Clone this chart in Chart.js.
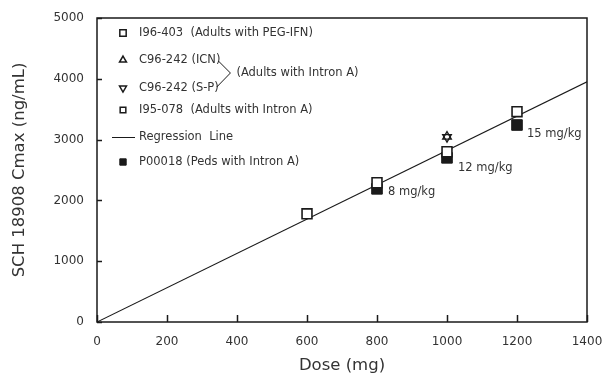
<!DOCTYPE html>
<html>
<head>
<meta charset="utf-8">
<script src="https://cdn.jsdelivr.net/npm/chart.js@4.4.0/dist/chart.umd.min.js"></script>
<style>
  html, body { margin: 0; padding: 0; background: #fff; }
  #wrap { width: 603px; height: 377px; position: relative; }
</style>
</head>
<body>
<div id="wrap"><canvas id="c"></canvas></div>
<script>
const X_TICKS = [0, 200, 400, 600, 800, 1000, 1200, 1400]
const Y_TICKS = [0, 1000, 2000, 3000, 4000, 5000]

// I96-403 (Adults with PEG-IFN)
const pegDose = [600, 800, 1200]
const pegCmax = [1780, 2290, 3460]
// I95-078 (Adults with Intron A)
const i95Dose = [1000]
const i95Cmax = [2800]
// C96-242 (ICN) and (S-P)
const icnDose = [1000]
const icnCmax = [3050]
const spDose = [1000]
const spCmax = [3040]
// P00018 (Peds with Intron A)
const pedDose = [800, 1000, 1200]
const pedCmax = [2190, 2700, 3240]
const pedLabels = ["8 mg/kg", "12 mg/kg", "15 mg/kg"]
// regression line
const regDose = [0, 1400]
const regCmax = [0, 3950]

const TEXT = "#333"
const INK = "#1a1a1a"
const FONT = "'DejaVu Sans', sans-serif"

const pts = (xs, ys) => xs.map((x, i) => ({ x: x, y: ys[i] }))

const legendRows = [
  { text: "I96-403  (Adults with PEG-IFN)", style: "rect", r: 4.5, fill: "#fff", y: 33 },
  { text: "C96-242 (ICN)", style: "triangle", r: 4, fill: "#fff", y: 60, brace: "top" },
  { text: "C96-242 (S-P)", style: "triangle", r: 4, rot: 180, fill: "#fff", y: 88, brace: "bottom" },
  { text: "I95-078  (Adults with Intron A)", style: "rect", r: 4, fill: "#fff", y: 110 },
  { text: "Regression  Line", style: "line", y: 137 },
  { text: "P00018 (Peds with Intron A)", style: "rect", r: 4.5, fill: INK, y: 162 }
]

const decor = {
  id: "decor",
  afterDraw(chart) {
    const { ctx, chartArea: a, scales } = chart
    ctx.save()
    // inward ticks
    ctx.strokeStyle = INK
    ctx.lineWidth = 1.5
    ctx.beginPath()
    X_TICKS.forEach(v => {
      const px = Math.round(scales.x.getPixelForValue(v)) + 0.5
      ctx.moveTo(px, a.bottom); ctx.lineTo(px, a.bottom - 7)
    })
    Y_TICKS.forEach(v => {
      const py = Math.round(scales.y.getPixelForValue(v)) + 0.5
      ctx.moveTo(a.left, py); ctx.lineTo(a.left + 5, py)
    })
    ctx.stroke()
    // frame
    ctx.lineWidth = 1.5
    ctx.strokeRect(a.left, a.top, a.right - a.left, a.bottom - a.top)

    // dose labels next to the peds points
    ctx.fillStyle = TEXT
    ctx.font = "11.5px " + FONT
    ctx.textBaseline = "middle"
    ctx.textAlign = "left"
    const offs = [[11, 3], [11, 10], [10, 9]]
    pedDose.forEach((d, i) => {
      const px = scales.x.getPixelForValue(d)
      const py = scales.y.getPixelForValue(pedCmax[i])
      ctx.fillText(pedLabels[i], px + offs[i][0], py + offs[i][1])
    })

    // legend
    const symX = 123, textX = 139
    let braceTop = null, braceBottom = null
    legendRows.forEach(row => {
      ctx.fillStyle = row.fill || INK
      ctx.strokeStyle = INK
      if (row.style === "line") {
        ctx.lineWidth = 1
        ctx.beginPath(); ctx.moveTo(112, row.y + 0.5); ctx.lineTo(135, row.y + 0.5); ctx.stroke()
      } else {
        Chart.helpers.drawPoint(ctx, { pointStyle: row.style, radius: row.r, rotation: row.rot || 0, borderWidth: 1.5 }, symX, row.y)
      }
      ctx.fillStyle = TEXT
      ctx.fillText(row.text, textX, row.y)
      const w = ctx.measureText(row.text).width
      if (row.brace === "top") braceTop = [textX + w, row.y]
      if (row.brace === "bottom") braceBottom = [textX + w, row.y]
    })
    if (braceTop && braceBottom) {
      const tipX = Math.max(braceTop[0], braceBottom[0]) + 10
      const tipY = (braceTop[1] + braceBottom[1]) / 2 - 1
      ctx.strokeStyle = INK
      ctx.lineWidth = 1
      ctx.beginPath()
      ctx.moveTo(braceTop[0] - 2, braceTop[1] + 1)
      ctx.lineTo(tipX, tipY)
      ctx.lineTo(braceBottom[0] - 2, braceBottom[1] - 1)
      ctx.stroke()
      ctx.fillStyle = TEXT
      ctx.fillText("(Adults with Intron A)", tipX + 6, tipY)
    }
    ctx.restore()
  }
}

new Chart(document.getElementById("c"), {
  type: "scatter",
  data: {
    datasets: [
      {
        label: "C96-242 (ICN)",
        data: pts(icnDose, icnCmax),
        pointStyle: "triangle", pointRadius: 5,
        backgroundColor: "rgba(255,255,255,0)", borderColor: INK, borderWidth: 1.3
      },
      {
        label: "C96-242 (S-P)",
        data: pts(spDose, spCmax),
        pointStyle: "triangle", rotation: 180, pointRadius: 5,
        backgroundColor: "rgba(255,255,255,0)", borderColor: INK, borderWidth: 1.3
      },
      {
        label: "I96-403",
        data: pts(pegDose, pegCmax),
        pointStyle: "rect", pointRadius: 7,
        backgroundColor: "#fff", borderColor: INK, borderWidth: 1.6
      },
      {
        label: "I95-078",
        data: pts(i95Dose, i95Cmax),
        pointStyle: "rect", pointRadius: 7,
        backgroundColor: "#fff", borderColor: INK, borderWidth: 1.6
      },
      {
        label: "P00018",
        data: pts(pedDose, pedCmax),
        pointStyle: "rect", pointRadius: 7.5,
        backgroundColor: INK, borderColor: INK, borderWidth: 1
      },
      {
        label: "Regression Line",
        data: pts(regDose, regCmax),
        showLine: true, pointRadius: 0,
        borderColor: INK, borderWidth: 1.1
      }
    ]
  },
  options: {
    responsive: true,
    maintainAspectRatio: false,
    animation: false,
    devicePixelRatio: 1,
    layout: { padding: { top: 18, right: 16, left: 0, bottom: 0 } },
    plugins: { legend: { display: false }, tooltip: { enabled: false } },
    scales: {
      x: {
        type: "linear", min: 0, max: 1400,
        afterFit: s => { s.height = 55; s.paddingLeft = 0; s.paddingRight = 0 },
        afterBuildTicks: s => { s.ticks = X_TICKS.map(v => ({ value: v })) },
        grid: { display: false },
        border: { display: false },
        ticks: { color: TEXT, font: { family: FONT, size: 12 }, padding: 5, maxRotation: 0, callback: v => String(v) },
        title: { display: true, text: "Dose (mg)", color: TEXT, font: { family: FONT, size: 16.5 }, padding: { top: 0, bottom: 1 } }
      },
      y: {
        type: "linear", min: 0, max: 5000,
        afterFit: s => { s.width = 97; s.paddingTop = 0; s.paddingBottom = 0 },
        afterBuildTicks: s => { s.ticks = Y_TICKS.map(v => ({ value: v })) },
        grid: { display: false },
        border: { display: false },
        ticks: { color: TEXT, font: { family: FONT, size: 12 }, padding: 5, callback: v => String(v) },
        title: { display: true, text: "SCH 18908 Cmax (ng/mL)", color: TEXT, font: { family: FONT, size: 16.5 }, padding: { top: 10, bottom: 0 } }
      }
    }
  },
  plugins: [decor]
})
</script>
</body>
</html>
